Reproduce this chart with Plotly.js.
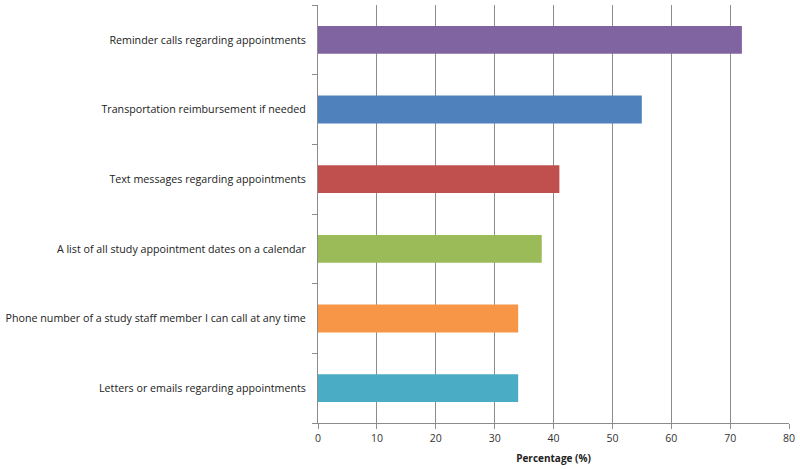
<!DOCTYPE html>
<html>
<head>
<meta charset="utf-8">
<script src="https://cdn.plot.ly/plotly-3.0.1.min.js"></script>
<style>
  body { margin: 0; background: #fff; }
  #chart { width: 800px; height: 469px; }
</style>
</head>
<body>
<div id="chart"></div>
<script>
// bottom to top, as drawn
var categories = [
  'Letters or emails regarding appointments',
  'Phone number of a study staff member I can call at any time',
  'A list of all study appointment dates on a calendar',
  'Text messages regarding appointments',
  'Transportation reimbursement if needed',
  'Reminder calls regarding appointments'
];
var percentages = [34, 34, 38, 41, 55, 72];
var barColors = ['#4BACC6', '#F79646', '#9BBB59', '#C0504D', '#4F81BD', '#8064A2'];
var xTicks = [0, 10, 20, 30, 40, 50, 60, 70, 80];

var trace = {
  type: 'bar',
  orientation: 'h',
  x: percentages,
  y: categories,
  marker: { color: barColors },
  width: 0.4,
  hoverinfo: 'x+y'
};

var layout = {
  width: 800,
  height: 469,
  margin: { l: 318, r: 11, t: 5, b: 46 },
  paper_bgcolor: '#fff',
  plot_bgcolor: '#fff',
  font: { family: 'Open Sans, sans-serif', size: 10, color: '#222' },
  showlegend: false,
  xaxis: {
    range: [0, 80],
    tickvals: xTicks,
    ticktext: xTicks.map(String),
    showgrid: true,
    gridcolor: '#8c8c8c',
    gridwidth: 1,
    zeroline: false,
    showline: true,
    linecolor: '#8c8c8c',
    ticks: 'outside',
    ticklen: 5,
    tickcolor: '#8c8c8c',
    tickfont: { size: 10.5, color: '#333' },
    fixedrange: true,
    title: { text: '<b>Percentage (%)</b>', font: { size: 10, color: '#222' }, standoff: 11 }
  },
  yaxis: {
    type: 'category',
    categoryorder: 'array',
    categoryarray: categories,
    showgrid: false,
    zeroline: false,
    showline: true,
    linecolor: '#8c8c8c',
    ticks: 'outside',
    tickson: 'boundaries',
    ticklen: 5,
    tickcolor: '#8c8c8c',
    ticklabelstandoff: 9,
    tickfont: { size: 10.7, color: '#222' },
    fixedrange: true
  }
};

Plotly.newPlot('chart', [trace], layout, { displayModeBar: false, staticPlot: true });
</script>
</body>
</html>
